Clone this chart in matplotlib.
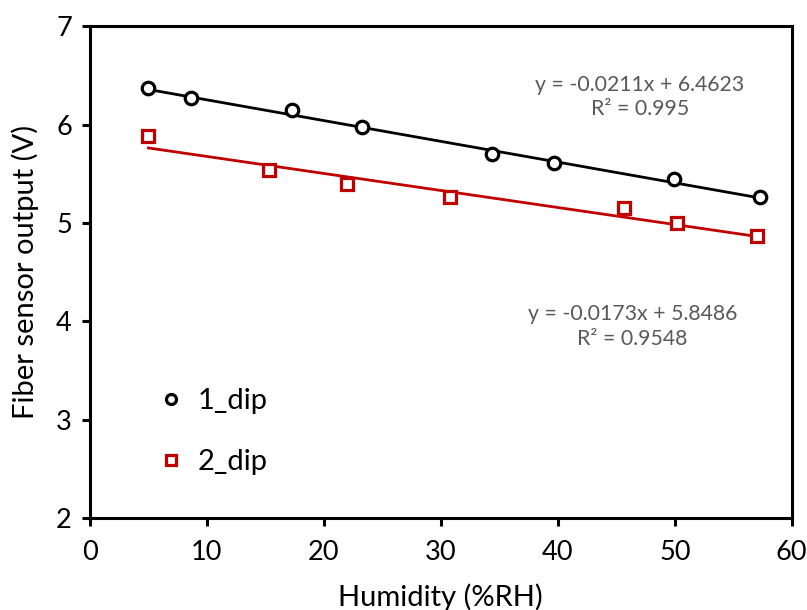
import numpy as np
import matplotlib.pyplot as plt

plt.rcParams['font.family'] = ['Lato', 'DejaVu Sans']

# measured sensor output vs humidity
hum_1 = [5.0, 8.6, 17.3, 23.3, 34.4, 39.7, 49.9, 57.3]
volt_1 = [6.37, 6.27, 6.15, 5.98, 5.70, 5.61, 5.45, 5.26]

hum_2 = [5.0, 15.35, 22.0, 30.8, 45.7, 50.2, 57.0]
volt_2 = [5.88, 5.54, 5.40, 5.26, 5.15, 5.00, 4.87]

# linear trendlines (slope, intercept, R^2)
slope_1, icpt_1, r2_1 = -0.0211, 6.4623, 0.995
slope_2, icpt_2, r2_2 = -0.0173, 5.8486, 0.9548

red = '#C00000'
grey = '#595959'

fig = plt.figure(figsize=(8.07, 6.10), dpi=100)
ax = fig.add_axes([0.1115, 0.151, 0.8695, 0.806])

# trendlines across each data range
xx1 = np.array([min(hum_1), max(hum_1)])
ax.plot(xx1, slope_1 * xx1 + icpt_1, color='black', lw=2.0, zorder=2)
xx2 = np.array([min(hum_2), max(hum_2)])
ax.plot(xx2, slope_2 * xx2 + icpt_2, color=red, lw=2.0, zorder=2)

ax.plot(hum_1, volt_1, 'o', ms=9, mfc='white', mec='black', mew=2.3,
        label='1_dip', zorder=3)
ax.plot(hum_2, volt_2, 's', ms=8.5, mfc='white', mec=red, mew=2.3,
        label='2_dip', zorder=3)

ax.text(47.0, 6.28, 'y = %.4fx + %.4f\nR² = %s' % (slope_1, icpt_1, r2_1),
        ha='center', va='center', fontsize=15.3, color=grey, linespacing=1.3)
ax.text(46.4, 3.95, 'y = %.4fx + %.4f\nR² = %s' % (slope_2, icpt_2, r2_2),
        ha='center', va='center', fontsize=15.3, color=grey, linespacing=1.3)

ax.set_xlim(0, 60)
ax.set_ylim(2, 7)
ax.set_xticks(range(0, 61, 10))
ax.set_yticks(range(2, 8))
ax.set_xlabel('Humidity (%RH)', fontsize=21, labelpad=13)
ax.set_ylabel('Fiber sensor output (V)', fontsize=21, labelpad=12)
ax.tick_params(labelsize=19.5, direction='out', length=6, width=2.2, pad=7)
ax.tick_params(axis='x', pad=10)
for s in ax.spines.values():
    s.set_linewidth(2.2)

leg = ax.legend(loc='lower left', bbox_to_anchor=(0.066, 0.033), frameon=False,
                fontsize=21, labelspacing=1.2, handlelength=0.6,
                handletextpad=0.6, markerscale=0.8)

fig.savefig('out.png', dpi=100)
